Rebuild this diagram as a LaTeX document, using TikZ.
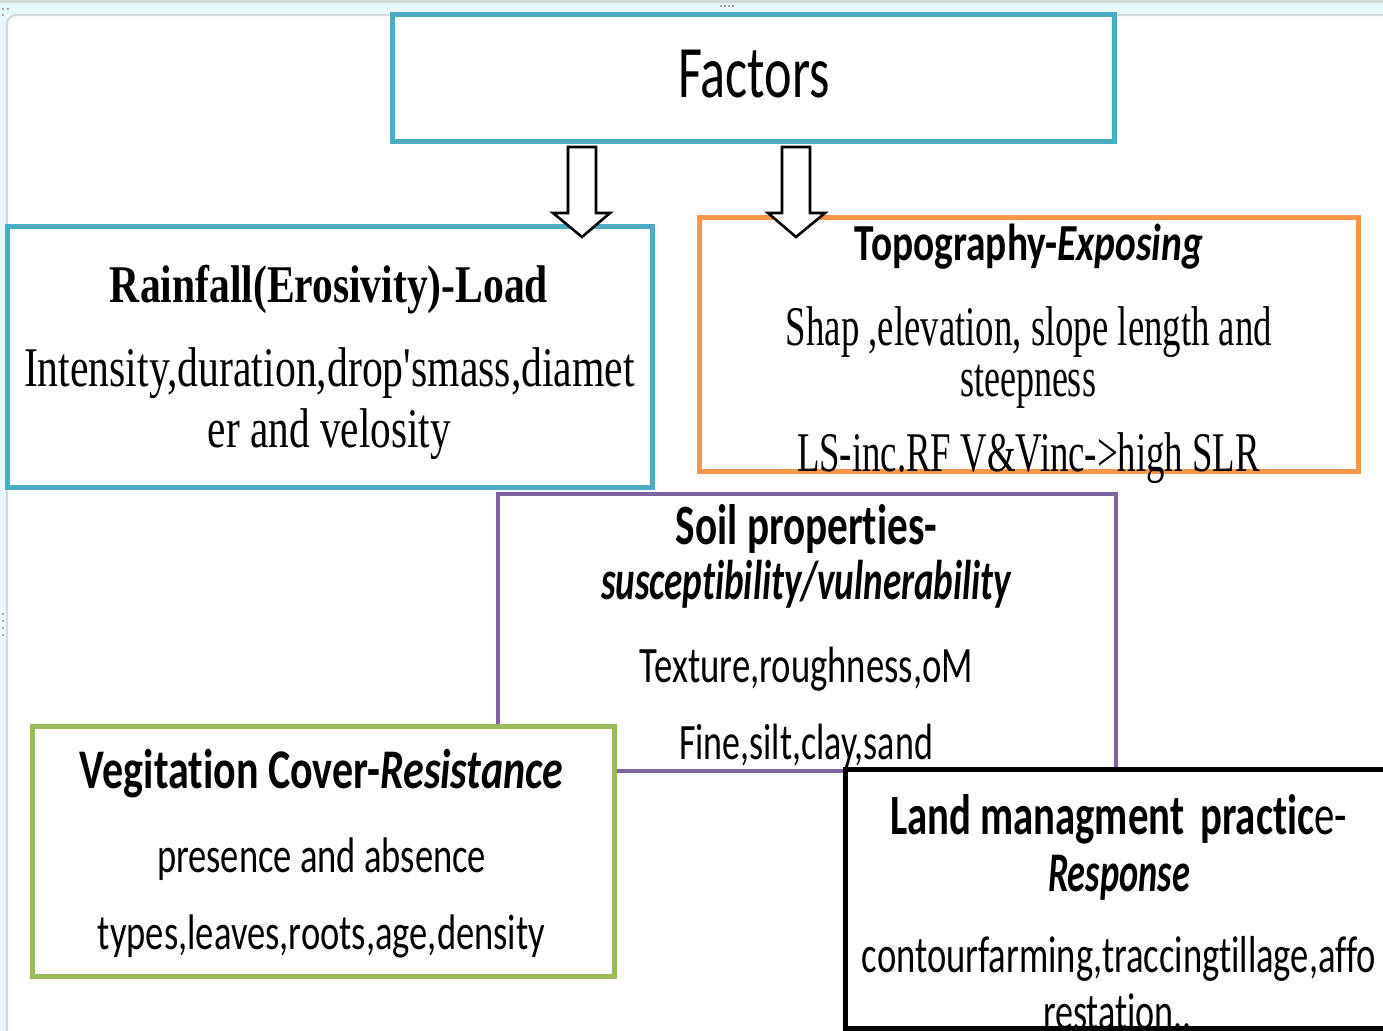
\documentclass[tikz,border=0pt]{standalone}
\usepackage{fontspec}
\usepackage{graphicx}
\setmainfont[Ligatures=NoCommon]{Carlito}
\newfontfamily\tnr{Liberation Serif}
\definecolor{cblue}{HTML}{4BACC6}
\definecolor{corange}{HTML}{F79646}
\definecolor{cpurple}{HTML}{8064A2}
\definecolor{cgreen}{HTML}{9BBB59}
\definecolor{cframe}{HTML}{EAFAFC}
\definecolor{cgrey}{HTML}{D3DADB}
\newcommand{\fitline}[3]{\resizebox{#1}{\height}{\fontsize{#2}{#2}\selectfont #3}}
\tikzset{
  box/.style={draw, line width=2.5pt, fill=white, inner sep=0pt, outer sep=0pt, anchor=north west},
  txt/.style={anchor=base, inner sep=0pt, outer sep=0pt},
  blockarrow/.style={draw=black, line width=1.3pt, fill=white, line join=miter},
}
\begin{document}
\begin{tikzpicture}[x=0.5pt, y=-0.5pt]
\useasboundingbox (0,0) rectangle (1383,1031);
\clip (0,0) rectangle (1383,1031);
% screenshot frame
\fill[cframe] (0,0) rectangle (1383,14);
\fill[cframe] (0,0) rectangle (7,1031);
\fill[cgrey] (0,0) rectangle (1383,3);
\draw[cgrey, line width=1.2pt] (7,1031) -- (7,24) arc (180:270:9) -- (1383,15);
\foreach \xx in {721,725,729,733} \fill[gray!70] (\xx-0.8,5.5) rectangle (\xx+0.8,7.5);
\fill[gray!70] (2,8) rectangle (4,10);
\fill[gray!70] (7,8) rectangle (9,10);
\fill[gray!70] (2,14) rectangle (4,16);
\foreach \yy in {613,620,627,634} \fill[gray!70] (2,\yy) rectangle (4,\yy+2);

% boxes
\node[box, draw=cpurple, line width=2.2pt, minimum width=309pt, minimum height=138.5pt] (soil) at (498,494) {};
\node[box, draw=cblue, minimum width=361pt, minimum height=63.5pt] (factors) at (392,15) {};
\node[box, draw=cblue, minimum width=322.5pt, minimum height=130.5pt] (rain) at (7,227) {};
\node[box, draw=corange, minimum width=329.5pt, minimum height=127pt] (topo) at (699,218) {};
\node[box, draw=cgreen, minimum width=291pt, minimum height=125pt] (veg) at (32,727) {};
\node[box, draw=black, minimum width=300pt, minimum height=129pt] (land) at (845,770) {};

% block arrows
\coordinate (a1) at (582,147);
\coordinate (a2) at (796,147);
\draw[blockarrow] (568,147) -- (596,147) -- (596,213) -- (610,213) -- (582,237) -- (553,213) -- (568,213) -- cycle;
\draw[blockarrow] (782,147) -- (810,147) -- (810,213) -- (825,213) -- (796,237) -- (768,213) -- (782,213) -- cycle;

% texts
\node[txt] (tfactors) at (754,98) {\fitline{76pt}{37pt}{Factors}};

\node[txt] (train1) at (329,303) {\fitline{219pt}{26.5pt}{\tnr\bfseries Rainfall(Erosivity)-Load}};
\node[txt] (train2) at (329.5,387) {\fitline{305.5pt}{28pt}{\tnr Intensity,duration,drop'smass,diamet}};
\node[txt] (train3) at (329.5,448) {\fitline{121.5pt}{28pt}{\tnr er and velosity}};

\node[txt] (ttopo1) at (1029,261) {\fitline{174pt}{26pt}{\textbf{Topography-}\textbf{\textit{Exposing}}}};
\node[txt] (ttopo2) at (1029,346) {\fitline{243pt}{28pt}{\tnr Shap ,elevation, slope length and}};
\node[txt] (ttopo3) at (1028,397) {\fitline{68pt}{28pt}{\tnr steepness}};
\node[txt] (ttopo4) at (1028.5,472) {\fitline{231.5pt}{28pt}{\tnr LS-inc.RF V\&Vinc->high SLR}};

\node[txt] (tsoil1) at (806.5,545) {\fitline{130.5pt}{28.5pt}{\textbf{Soil properties-}}};
\node[txt] (tsoil2) at (806.5,600) {\fitline{205.5pt}{28pt}{\textbf{\textit{susceptibility/vulnerability}}}};
\node[txt] (tsoil3) at (806.5,683) {\fitline{166.5pt}{25.5pt}{Texture,roughness,oM}};
\node[txt] (tsoil4) at (806,760) {\fitline{127pt}{25.5pt}{Fine,silt,clay,sand}};

\node[txt] (tveg1) at (321.5,789) {\fitline{241.5pt}{28pt}{\textbf{Vegitation Cover-\textit{Resistance}}}};
\node[txt] (tveg2) at (321.5,872) {\fitline{164.5pt}{25pt}{presence and absence}};
\node[txt] (tveg3) at (321.5,950) {\fitline{223.5pt}{25pt}{types,leaves,roots,age,density}};

\node[txt] (tland1) at (1118.5,835) {\fitline{228.5pt}{28.5pt}{\textbf{Land managment\hspace{0.4em}practic}e-}};
\node[txt] (tland2) at (1119,892) {\fitline{71pt}{28pt}{\textbf{\textit{Response}}}};
\node[txt] (tland3) at (1119,972) {\fitline{257pt}{26pt}{contourfarming,traccingtillage,affo}};
\node[txt] (tland4) at (1117.5,1029) {\fitline{74.5pt}{26pt}{restation..}};
\end{tikzpicture}
\end{document}
